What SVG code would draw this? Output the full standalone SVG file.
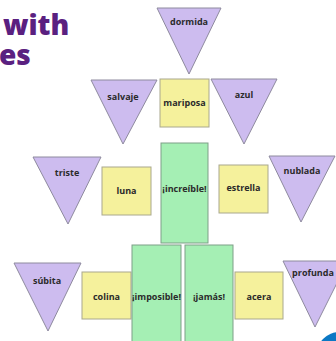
<svg xmlns="http://www.w3.org/2000/svg" width="336" height="341" viewBox="0 0 336 341">
<style>
.tri{fill:#cdbcef;stroke:#8e8a9e;stroke-width:1}
.yel{fill:#f5f19c;stroke:#a9a88e;stroke-width:1}
.grn{fill:#a5efb4;stroke:#7f9f88;stroke-width:1}
.lbl{font-family:"Open Sans","Noto Sans",sans-serif;font-weight:700;font-size:9px;fill:#2b2b2b;text-anchor:middle}
.title{font-family:"Open Sans","Noto Sans",sans-serif;font-weight:800;font-size:28px;fill:#5a2080}
</style>
<rect width="336" height="341" fill="#ffffff"/>
<g id="title">
<text class="title" x="3" y="35">with</text>
<text class="title" x="-1" y="65">es</text>
</g>
<g id="connectors"/>
<g id="dormida"><polygon class="tri" points="157,8 221,8 189,74"/><text class="lbl" x="189" y="25">dormida</text></g>
<g id="salvaje"><polygon class="tri" points="91,80 157,80 123,144"/><text class="lbl" x="123" y="100">salvaje</text></g>
<g id="mariposa"><rect class="yel" x="160" y="79" width="49" height="48"/><text class="lbl" x="184.5" y="106">mariposa</text></g>
<g id="azul"><polygon class="tri" points="211,79 277,79 244,144"/><text class="lbl" x="244" y="98">azul</text></g>
<g id="triste"><polygon class="tri" points="33,157 101,157 68,224"/><text class="lbl" x="67" y="176">triste</text></g>
<g id="luna"><rect class="yel" x="102" y="167" width="49" height="48"/><text class="lbl" x="126.5" y="194">luna</text></g>
<g id="increible"><rect class="grn" x="161" y="143" width="47" height="100"/><text class="lbl" x="184.5" y="192">¡increíble!</text></g>
<g id="estrella"><rect class="yel" x="219" y="165" width="49" height="48"/><text class="lbl" x="243.5" y="191">estrella</text></g>
<g id="nublada"><polygon class="tri" points="269,156 335,156 301,222"/><text class="lbl" x="302" y="174">nublada</text></g>
<g id="subita"><polygon class="tri" points="14,263 81,263 48,331"/><text class="lbl" x="47" y="284">súbita</text></g>
<g id="colina"><rect class="yel" x="82" y="272" width="49" height="47"/><text class="lbl" x="106.5" y="300">colina</text></g>
<g id="imposible"><rect class="grn" x="132" y="245" width="49" height="100"/><text class="lbl" x="156.5" y="300">¡imposible!</text></g>
<g id="jamas"><rect class="grn" x="185" y="245" width="48" height="100"/><text class="lbl" x="209" y="300">¡jamás!</text></g>
<g id="acera"><rect class="yel" x="235" y="272" width="48" height="47"/><text class="lbl" x="259" y="300">acera</text></g>
<g id="profunda"><polygon class="tri" points="283,261 348,261 315,327"/><text class="lbl" x="313" y="276">profunda</text></g>
<g id="badge"><circle cx="340" cy="356" r="24" fill="#0b78c4"/></g>
</svg>
